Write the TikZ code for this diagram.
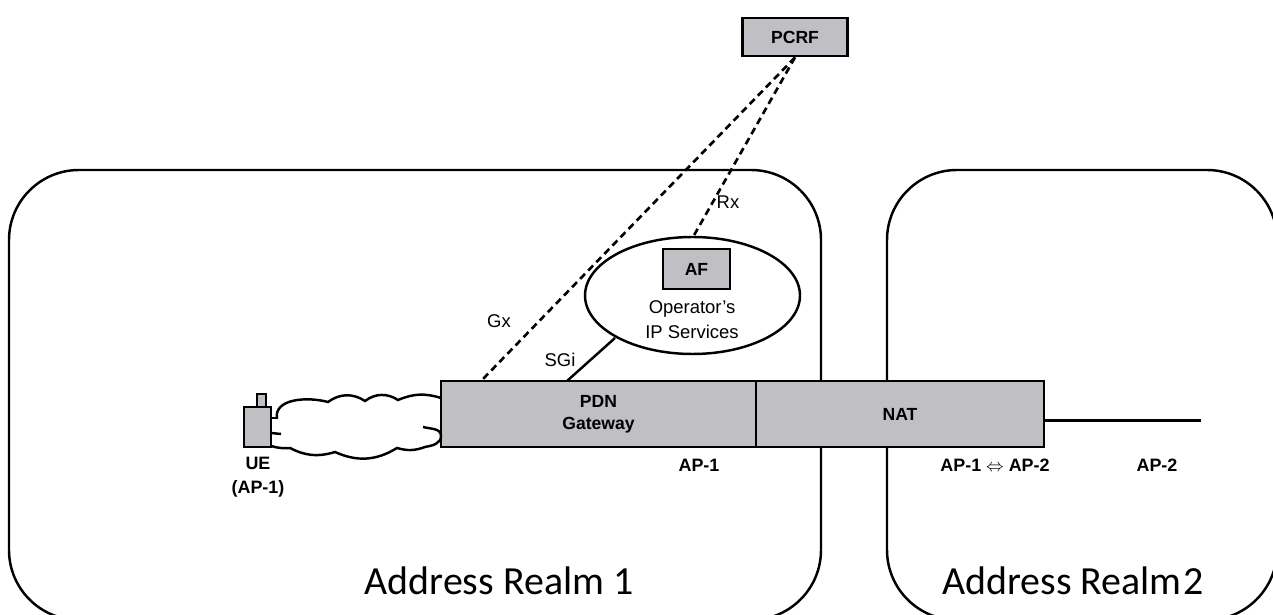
\documentclass[tikz,border=0pt]{standalone}
\usepackage{fontspec}
\setmainfont{Liberation Sans}
\newfontfamily\realmfont{Carlito}
\usetikzlibrary{shapes.geometric}
\definecolor{boxgray}{RGB}{192,191,196}

\begin{document}
\begin{tikzpicture}[
        realm/.style={draw, line width=1.4pt, rounded corners=1.4cm, minimum width=#1, minimum height=9cm},
        block/.style={draw, line width=1.6pt, fill=boxgray, align=center, inner sep=0pt, font=\fontsize{10}{12.6}\bfseries\selectfont},
        note/.style={align=center, inner sep=0pt, font=\fontsize{10.2}{13.4}\bfseries\selectfont},
        iface/.style={inner sep=0pt, font=\fontsize{10.5}{12}\selectfont},
        realmtext/.style={anchor=base, inner sep=0pt, font=\realmfont\fontsize{22.7}{27}\selectfont},
        link/.style={line width=1.4pt},
        dashlink/.style={line width=1.5pt, dash pattern=on 4pt off 2.6pt}
    ]
        \useasboundingbox (0, 0) rectangle (25.46, 12.3);

        % Realms
        \node[realm=16.24cm] (realmone) at (8.3, 4.4) {};
        \node[realm=7.8cm] (realmtwo) at (21.64, 4.4) {};
        \node[realmtext] (realmonetext) at (9.98, 0.4) {Address Realm 1};
        \node[realmtext] (realmtwotext) at (21.46, 0.4) {Address Realm\kern1pt 2};

        % Top box
        \node[block, minimum width=2.1cm, minimum height=0.76cm] (pcrf) at (15.9, 11.56) {PCRF};

        % Operator services
        \node[draw, ellipse, line width=1.4pt, fill=white, minimum width=4.3cm, minimum height=2.34cm] (ops) at (13.85, 6.39) {};
        \node[block, minimum width=1.34cm, minimum height=0.8cm] (af) at (13.93, 6.92) {AF};
        \node[align=center, inner sep=0pt, font=\fontsize{10.5}{14.2}\selectfont] (opstext) at (13.84, 5.9) {Operator's\\IP Services};

        % Gateway and NAT
        \node[block, minimum width=6.3cm, minimum height=1.32cm] (pdn) at (11.97, 4.02) {PDN\\Gateway};
        \node[block, minimum width=5.76cm, minimum height=1.32cm] (nat) at (18, 4.02) {NAT};

        % UE
        \node[block, minimum width=0.54cm, minimum height=0.8cm] (ue) at (5.15, 3.76) {};
        \node[block, minimum width=0.18cm, minimum height=0.26cm] (antenna) at (5.23, 4.29) {};

        % Cloud
        \draw[link] (5.42, 3.94) -- (5.56, 3.94);
        \draw[link] (5.42, 3.64) -- (5.62, 3.62);
        \draw[link] (5.54, 3.92) to[out=100, in=165] (6.56, 4.26) to[bend left=35] (7.3, 4.28) to[bend left=35] (7.96, 4.3) to[bend left=20] (8.82, 4.34);
        \draw[link] (5.42, 3.38) to[bend right=10] (5.8, 3.34) to[bend right=22] (6.7, 3.26) to[bend right=28] (7.94, 3.34) to[bend right=18] (8.5, 3.36) to[out=10, in=-90] (8.82, 3.58) to[out=90, in=-15] (8.46, 3.76);

        % Free ends
        \coordinate (gxend) at (9.64, 4.7);
        \coordinate (rxend) at (13.86, 7.56);
        \coordinate (sgiend) at (11.34, 4.68);
        \coordinate (sgistart) at (12.3, 5.54);
        \coordinate (apend) at (24.02, 3.89);

        % Connectors
        \draw[dashlink] (pcrf.south) -- (gxend);
        \draw[dashlink] (pcrf.south) -- (rxend);
        \draw[link] (sgiend) -- (sgistart);
        \draw[link] (nat.east |- apend) -- (apend);

        % Labels
        \node[iface] (gx) at (9.98, 5.88) {Gx};
        \node[iface] (rx) at (14.56, 8.26) {Rx};
        \node[iface] (sgi) at (11.2, 5.1) {SGi};
        \node[note] (uetext) at (5.16, 2.76) {UE\\(AP-1)};
        \node[note] (apone) at (13.98, 3) {AP-1};
        \node[note] (apboth) at (19.9, 3) {AP-1 $\Leftrightarrow$ AP-2};
        \node[note] (aptwo) at (23.14, 3) {AP-2};
    \end{tikzpicture}
\end{document}
